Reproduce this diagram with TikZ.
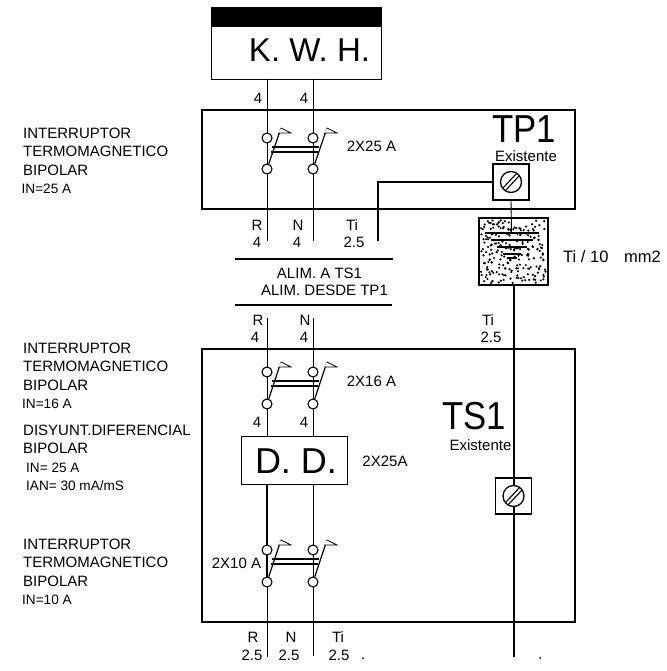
\documentclass[tikz,border=0pt]{standalone}
\usepackage{fontspec}
\setmainfont{Liberation Sans}
\usepackage{xcolor}
\usepackage{graphicx}
\tikzset{
  wire/.style={line width=0.9pt},
  heavy/.style={line width=1.5pt},
  panel/.style={draw,line width=1.4pt},
  lab/.style={font=\fontsize{15}{15}\selectfont,inner sep=0pt},
  big/.style={font=\fontsize{33}{33}\selectfont,inner sep=0pt},
  huge/.style={font=\fontsize{39}{39}\selectfont,inner sep=0pt},
  side/.style={font=\fontsize{15}{18.5}\selectfont,inner sep=0pt,align=left,anchor=north west},
  term/.style={circle,draw,line width=1.1pt,fill=white,minimum size=10pt,inner sep=0pt},
  screwhead/.style={circle,draw,line width=1.3pt,fill=white,minimum size=21pt,inner sep=0pt},
}
\newcommand{\smalltxt}[1]{{\fontsize{13.6}{18.5}\selectfont #1}}
% one pair of poles with their flags
\newcommand{\breaker}[3]{%
  \node[term](#1u) at (267,#2) {};
  \node[term](#1d) at (267,#3) {};
  \node[term](#1v) at (313,#2) {};
  \node[term](#1e) at (313,#3) {};
  \foreach \px/\pd in {267/#1d,313/#1e} {
    \draw[line width=1.2pt] (\pd) -- (\px+14,#2-10);
    \draw[line width=.7pt,fill=white] (\px+14,#2-10) -- (\px+24,#2-5) -- (\px+11,#2-5);
  }
  \draw[line width=1.2pt] (272,#2+9) -- (319,#2+9);
  \draw[line width=1.2pt] (271,#2+14) -- (318,#2+14);
}
\begin{document}
\begin{tikzpicture}[x=1pt,y=-1pt]
  \useasboundingbox (0,0) rectangle (666,671);

  \node[draw,line width=.9pt,minimum width=170pt,minimum height=72pt](kwh) at (296,43) {};
  \node[fill=black,minimum width=171pt,minimum height=20pt,inner sep=0pt](band) at (296,17) {};
  \node[big](kwht) at (309.5,50) {K. W. H.};

  \node[panel,minimum width=373pt,minimum height=99pt](tp) at (388.5,159.5) {};
  \node[panel,minimum width=373pt,minimum height=273pt](ts) at (388.5,485.5) {};
  \node[huge](tpt) at (524,129) {\scalebox{.89}[1]{TP1}};
  \node[huge](tst) at (474,416) {\scalebox{.89}[1]{TS1}};
  \node[lab](ex1) at (526,156) {Existente};
  \node[lab](ex2) at (480.5,445) {Existente};

  % upper board
  \draw[wire] (267,79) -- (267,241);
  \draw[wire] (313,79) -- (313,241);
  \breaker{a}{138}{169}
  \node[lab](n1) at (258,98) {4};
  \node[lab](n2) at (304,98) {4};
  \node[lab](s1) at (371.5,146) {2X25 A};

  \coordinate (tiend) at (378,241);
  \node[draw,line width=1.4pt,minimum size=36pt,inner sep=0pt](bx1) at (511,182) {};
  \node[screwhead](sc1) at (511,182) {};
  \draw[line width=1.1pt] (505,191) -- (519,176);
  \draw[line width=1.1pt] (503,188) -- (517,173);
  \draw[heavy] (bx1.west) -| (tiend);

  % ground pit
  \node[draw,line width=1.6pt,minimum width=69pt,minimum height=67pt,inner sep=0pt](pit) at (513.5,251.5) {};
  \pgfmathsetseed{7}
  \foreach \i in {1,...,220}
    \fill (481+65*rnd,220+63*rnd) circle (1.2pt);
  \coordinate (gnd) at (511.5,233);
  \draw[wire] (bx1.south) -- (gnd);
  \foreach \yy/\hw in {233/27,240/21,247/15,254/9,258/5}
    \draw[line width=1.1pt] (511.5-\hw,\yy) -- (511.5+\hw,\yy);
  \node[lab,font=\fontsize{16.5}{16.5}\selectfont,anchor=west](pitt) at (563,257) {Ti / 10\hspace{11pt} mm2};
  \coordinate (tibot) at (514,657);
  \coordinate (titop) at (514,285);
  \draw[line width=1.2pt] (titop) -- (tibot);

  \node[lab](r1) at (257,225) {R};
  \node[lab](n3) at (298,225) {N};
  \node[lab](t1) at (352,225) {Ti};
  \node[lab](v1) at (257,242) {4};
  \node[lab](v2) at (297,242) {4};
  \node[lab](v3) at (354,242) {2.5};

  % feeder
  \coordinate (la) at (235,259);
  \coordinate (lb) at (393,259);
  \coordinate (lc) at (235,305);
  \coordinate (ld) at (392,305);
  \draw[heavy] (la) -- (lb);
  \draw[heavy] (lc) -- (ld);
  \node[lab](f1) at (319.5,273) {ALIM. A TS1};
  \node[lab](f2) at (324.5,290) {ALIM. DESDE TP1};

  \node[lab](r2) at (258,320) {R};
  \node[lab](n4) at (305,320) {N};
  \node[lab](v4) at (255,337) {4};
  \node[lab](v5) at (304,337) {4};
  \node[lab](t2) at (488,320) {Ti};
  \node[lab](v6) at (491,337) {2.5};

  % lower board
  \node[draw,line width=.9pt,minimum width=106pt,minimum height=48pt,inner sep=0pt](dd) at (294,460) {};
  \node[font=\fontsize{36}{36}\selectfont,inner sep=0pt](ddt) at (296,461) {D. D.};
  \draw[wire] (267,318) -- (267,436);
  \draw[wire] (313,318) -- (313,436);
  \draw[heavy] (267,484) -- (267,582);
  \draw[wire] (313,484) -- (313,582);
  \draw[wire] (267,582) -- (267,657);
  \draw[wire] (313,582) -- (313,656);
  \breaker{b}{372}{404}
  \breaker{c}{550}{582}
  \node[lab](s2) at (371.5,381) {2X16 A};
  \node[lab](s3) at (385,461) {2X25A};
  \node[lab](s4) at (236.5,563) {2X10 A};
  \node[lab](n5) at (257,422) {4};
  \node[lab](n6) at (304,422) {4};
  \node[draw,line width=1.1pt,minimum size=36pt,inner sep=0pt](bx2) at (513.5,496) {};
  \node[screwhead](sc2) at (513.5,496) {};
  \draw[line width=1.1pt] (508,505) -- (522,490);
  \draw[line width=1.1pt] (506,502) -- (520,487);

  \node[lab](r3) at (253,637) {R};
  \node[lab](n7) at (291,637) {N};
  \node[lab](t3) at (338,637) {Ti};
  \node[lab](v7) at (252,655) {2.5};
  \node[lab](v8) at (289,655) {2.5};
  \node[lab](v9) at (339,655) {2.5};
  \fill (363,658) circle (1pt);
  \fill (540,658) circle (1pt);

  \node[side](d1) at (23,127.5) {INTERRUPTOR\\TERMOMAGNETICO\\BIPOLAR\\\hspace{-1.5pt}\smalltxt{IN=25 A}};
  \node[side](d2) at (23,342.5) {INTERRUPTOR\\TERMOMAGNETICO\\BIPOLAR\\\hspace{-1pt}\smalltxt{IN=16 A}};
  \node[side](d3) at (23,424.5) {DISYUNT.DIFERENCIAL\\BIPOLAR\\\hspace{3pt}\smalltxt{IN= 25 A}\\\hspace{3pt}\smalltxt{IAN= 30 mA/mS}};
  \node[side](d4) at (23,538.5) {INTERRUPTOR\\TERMOMAGNETICO\\BIPOLAR\\\hspace{-1pt}\smalltxt{IN=10 A}};
\end{tikzpicture}
\end{document}
